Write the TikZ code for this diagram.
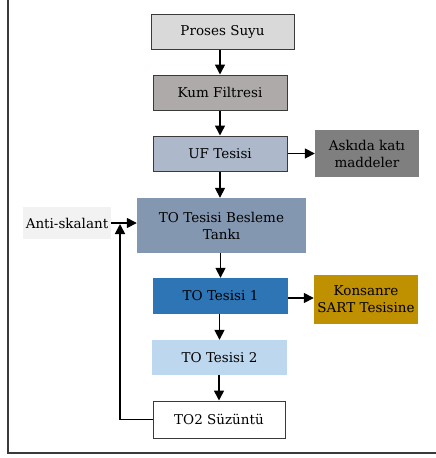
\documentclass[tikz,border=0pt]{standalone}
\usepackage{fontspec}
\setmainfont{DejaVu Serif}
\usetikzlibrary{arrows.meta}
\definecolor{cProses}{HTML}{D9D9D9}
\definecolor{cKum}{HTML}{AEAAAA}
\definecolor{cUF}{HTML}{ADB9CA}
\definecolor{cAsk}{HTML}{7F7F7F}
\definecolor{cTank}{HTML}{8497B0}
\definecolor{cAnti}{HTML}{F2F2F2}
\definecolor{cTOa}{HTML}{2E75B6}
\definecolor{cKon}{HTML}{BF9000}
\definecolor{cTOb}{HTML}{BDD7EE}
\definecolor{cLine}{HTML}{3A3A3A}
\tikzset{
  box/.style={rectangle, inner sep=0pt, align=center, font=\fontsize{13.5}{17}\selectfont, text=black},
  bord/.style={draw=cLine, line width=1pt},
  arr/.style={line width=1.6pt, -{Triangle[length=10pt,width=10pt]}},
}
\begin{document}
\begin{tikzpicture}[x=1pt,y=-1pt]
\useasboundingbox (0,0) rectangle (436,458);
\draw[cLine, line width=1.2pt] (8,-5) -- (8,453) -- (441,453);
\node[box,bord,fill=cProses,minimum width=143pt,minimum height=35pt] (proses) at (222.5,31.5) {Proses Suyu};
\node[box,bord,fill=cKum,minimum width=134pt,minimum height=35pt] (kum) at (220,92.5) {Kum Filtresi};
\node[box,bord,fill=cUF,minimum width=134pt,minimum height=35pt] (uf) at (220,153.5) {UF Tesisi};
\node[box,fill=cAsk,minimum width=104pt,minimum height=47pt] (ask) at (367,153.5) {Askıda katı\\maddeler};
\node[box,fill=cTank,minimum width=169pt,minimum height=55pt] (tank) at (221.5,225.5) {TO Tesisi Besleme\\Tankı};
\node[box,fill=cAnti,minimum width=88pt,minimum height=32pt] (anti) at (67,223) {Anti-skalant};
\node[box,fill=cTOa,minimum width=135pt,minimum height=36pt] (toa) at (220.5,296) {TO Tesisi 1};
\node[box,fill=cKon,minimum width=104pt,minimum height=49pt] (kon) at (366,299.5) {Konsanre\\SART Tesisine};
\node[box,fill=cTOb,minimum width=135pt,minimum height=35pt] (tob) at (219.5,357.5) {TO Tesisi 2};
\node[box,bord,fill=white,minimum width=132pt,minimum height=37pt] (suz) at (219,419.5) {TO2 Süzüntü};
\coordinate (fb) at (120,224);
\draw[arr] (kum.north |- proses.south) -- (kum.north);
\draw[arr] (uf.north |- kum.south) -- (uf.north);
\draw[arr] (uf.south) -- (uf.south |- tank.north);
\draw[arr] (toa.north |- tank.south) -- (toa.north);
\draw[arr] (toa.south -| tob.north) -- (tob.north);
\draw[arr] (tob.south -| suz.north) -- (suz.north);
\draw[arr] (uf.east) -- (ask.west |- uf.east);
\draw[arr] (toa.east |- 0,298) -- (kon.west |- 0,298);
\draw[arr] (anti.east) -- (tank.west |- anti.east);
\draw[arr] (suz.west) -| (fb);
\end{tikzpicture}
\end{document}
